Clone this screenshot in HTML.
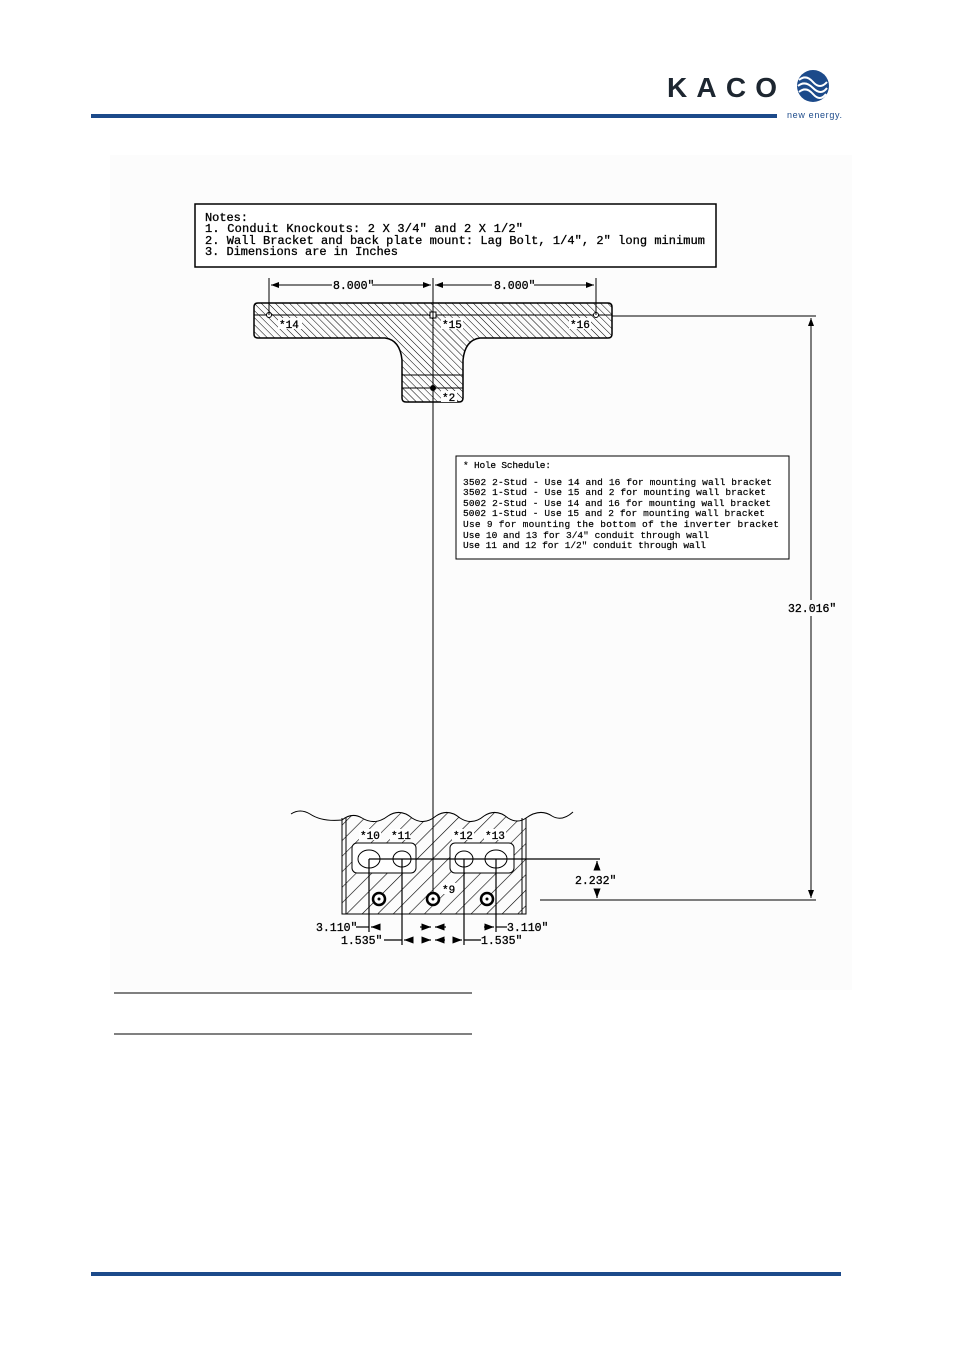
<!DOCTYPE html>
<html><head><meta charset="utf-8"><style>
body{margin:0;background:#fff}
svg{display:block}
text{font-family:"Liberation Mono","DejaVu Sans Mono",monospace}
</style></head><body>
<svg width="954" height="1350" viewBox="0 0 954 1350" xmlns="http://www.w3.org/2000/svg">
<defs>
<pattern id="h1" width="5" height="5" patternUnits="userSpaceOnUse" patternTransform="rotate(-45)"><line x1="0" y1="0" x2="0" y2="5" stroke="#000" stroke-width="1"/></pattern>
<pattern id="h2" width="11" height="11" patternUnits="userSpaceOnUse" patternTransform="rotate(45)"><line x1="0" y1="0" x2="0" y2="11" stroke="#000" stroke-width="1.2"/></pattern>
<marker id="a" markerWidth="8" markerHeight="6" refX="8" refY="3" orient="auto"><path d="M0,0L8,3L0,6z" fill="#000"/></marker>
</defs>
<rect x="110" y="155" width="742" height="835" fill="#fcfcfc"/>
<!-- header -->
<text x="667" y="97" font-weight="bold" font-size="28" fill="#1d2630" style="font-family:'Liberation Sans',sans-serif" textLength="110" lengthAdjust="spacing">KACO</text>
<circle cx="813" cy="86" r="16" fill="#1c4a8a"/>
<path d="M799,80 q7,-6 14,2 t14,0 M798,86 q7,-6 15,2 t14,0 M799,92 q7,-6 14,2 t13,0" stroke="#fff" stroke-width="2" fill="none"/>
<rect x="91" y="114" width="686" height="4" fill="#1c4a8a"/>
<text x="787" y="118" font-size="9" fill="#1c4a8a" style="font-family:'Liberation Sans',sans-serif" textLength="55">new energy.</text>
<!-- notes -->
<rect x="195" y="204" width="521" height="63" fill="#fff" stroke="#000" stroke-width="1.5"/>
<g font-size="12" fill="#000" stroke="#000" stroke-width="0.3">
<text x="205" y="221" textLength="43">Notes:</text>
<text x="205" y="232" textLength="318">1. Conduit Knockouts: 2 X 3/4" and 2 X 1/2"</text>
<text x="205" y="244" textLength="500">2. Wall Bracket and back plate mount: Lag Bolt, 1/4", 2" long minimum</text>
<text x="205" y="255" textLength="193">3. Dimensions are in Inches</text>
</g>
<!-- bracket -->
<path d="M258,303 H608 Q612,303 612,307 V334 Q612,338 608,338 H480 Q465,340 463,360 V398 Q463,402 459,402 H406 Q402,402 402,398 V360 Q400,340 385,338 H258 Q254,338 254,334 V307 Q254,303 258,303Z" fill="url(#h1)" stroke="#000" stroke-width="1.5"/>
<line x1="254" y1="315" x2="612" y2="315" stroke="#000"/>
<line x1="402" y1="375" x2="463" y2="375" stroke="#000"/>
<line x1="402" y1="388" x2="463" y2="388" stroke="#000"/>
<g fill="#fff"><rect x="278" y="318" width="24" height="11"/><rect x="441" y="318" width="22" height="11"/><rect x="569" y="318" width="22" height="11"/><rect x="441" y="391" width="16" height="11"/></g>
<g font-size="11" stroke="#000" stroke-width="0.3"><text x="279" y="328">*14</text><text x="442" y="328">*15</text><text x="570" y="328">*16</text><text x="442" y="401">*2</text></g>
<circle cx="269" cy="315" r="2.5" fill="#fff" stroke="#000"/><circle cx="596" cy="315" r="2.5" fill="#fff" stroke="#000"/><rect x="430" y="312" width="6" height="6" fill="#fff" stroke="#000"/><circle cx="433" cy="388" r="3" fill="#000"/>
<!-- dims top -->
<g stroke="#000" stroke-width="1">
<line x1="269" y1="278" x2="269" y2="315"/><line x1="596" y1="278" x2="596" y2="315"/>
<line x1="433" y1="278" x2="433" y2="900"/>
<line x1="332" y1="285" x2="271" y2="285" marker-end="url(#a)"/><line x1="372" y1="285" x2="431" y2="285" marker-end="url(#a)"/>
<line x1="492" y1="285" x2="435" y2="285" marker-end="url(#a)"/><line x1="534" y1="285" x2="594" y2="285" marker-end="url(#a)"/>
<line x1="612" y1="316" x2="816" y2="316"/><line x1="540" y1="900" x2="816" y2="900"/>
<line x1="811" y1="600" x2="811" y2="318" marker-end="url(#a)"/><line x1="811" y1="616" x2="811" y2="898" marker-end="url(#a)"/>
</g>
<g font-size="11.5" stroke="#000" stroke-width="0.3">
<text x="333" y="289">8.000"</text><text x="494" y="289">8.000"</text>
<text x="788" y="612">32.016"</text>
</g>
<!-- hole schedule -->
<rect x="456" y="456" width="333" height="103" fill="#fff" stroke="#000"/>
<g font-size="9.5" fill="#000" stroke="#000" stroke-width="0.2">
<text x="463" y="468" textLength="88">* Hole Schedule:</text>
<text x="463" y="485" textLength="309">3502 2-Stud - Use 14 and 16 for mounting wall bracket</text>
<text x="463" y="495" textLength="303">3502 1-Stud - Use 15 and 2 for mounting wall bracket</text>
<text x="463" y="506" textLength="308">5002 2-Stud - Use 14 and 16 for mounting wall bracket</text>
<text x="463" y="516" textLength="302">5002 1-Stud - Use 15 and 2 for mounting wall bracket</text>
<text x="463" y="527" textLength="316">Use 9 for mounting the bottom of the inverter bracket</text>
<text x="463" y="538" textLength="246">Use 10 and 13 for 3/4" conduit through wall</text>
<text x="463" y="548" textLength="243">Use 11 and 12 for 1/2" conduit through wall</text>
</g>
<!-- bottom part -->
<path d="M342,820 Q352,812 362,818 Q375,826 388,816 Q400,808 412,818 Q424,826 436,816 Q448,808 460,818 Q472,826 484,816 Q496,808 508,818 Q518,824 526,818 V914 H342Z" fill="url(#h2)" stroke="none"/>
<path d="M291,814 Q300,808 310,814 Q322,822 342,820 Q352,812 362,818 Q375,826 388,816 Q400,808 412,818 Q424,826 436,816 Q448,808 460,818 Q472,826 484,816 Q496,808 508,818 Q518,824 526,818 Q540,808 552,816 Q562,822 573,812" fill="none" stroke="#000"/>
<path d="M342,818 V914 H526 V818 M346,818 V914 M522,818 V914" fill="none" stroke="#000"/>
<rect x="352" y="843" width="64" height="30" rx="5" fill="#fff" stroke="#000"/>
<rect x="450" y="843" width="64" height="30" rx="5" fill="#fff" stroke="#000"/>
<g fill="#fff" stroke="#000"><ellipse cx="369" cy="859" rx="11" ry="9"/><ellipse cx="402" cy="859" rx="9" ry="8"/><ellipse cx="464" cy="859" rx="9" ry="8"/><ellipse cx="496" cy="859" rx="11" ry="9"/></g>
<g fill="#fff"><rect x="359" y="829" width="22" height="11"/><rect x="390" y="829" width="20" height="11"/><rect x="452" y="829" width="22" height="11"/><rect x="484" y="829" width="22" height="11"/><rect x="441" y="883" width="16" height="11"/></g>
<g font-size="11" stroke="#000" stroke-width="0.3"><text x="360" y="839">*10</text><text x="391" y="839">*11</text><text x="453" y="839">*12</text><text x="485" y="839">*13</text><text x="442" y="893">*9</text></g>
<g stroke="#000" fill="#fff"><circle cx="379" cy="899" r="6" stroke-width="2.5"/><circle cx="433" cy="899" r="6" stroke-width="2.5"/><circle cx="487" cy="899" r="6" stroke-width="2.5"/></g>
<g fill="#000"><circle cx="379" cy="899" r="1.5"/><circle cx="433" cy="899" r="1.5"/><circle cx="487" cy="899" r="1.5"/></g>
<g stroke="#000" stroke-width="1.2">
<line x1="369" y1="859" x2="600" y2="859"/>
<line x1="369" y1="859" x2="369" y2="932"/><line x1="402" y1="859" x2="402" y2="945"/><line x1="464" y1="859" x2="464" y2="945"/><line x1="496" y1="859" x2="496" y2="932"/>
<line x1="356" y1="927" x2="369" y2="927"/><line x1="380" y1="927" x2="371" y2="927" marker-end="url(#a)"/><line x1="420" y1="927" x2="431" y2="927" marker-end="url(#a)"/>
<line x1="446" y1="927" x2="435" y2="927" marker-end="url(#a)"/><line x1="484" y1="927" x2="494" y2="927" marker-end="url(#a)"/><line x1="496" y1="927" x2="507" y2="927"/>
<line x1="384" y1="940" x2="402" y2="940"/><line x1="412" y1="940" x2="404" y2="940" marker-end="url(#a)"/><line x1="422" y1="940" x2="431" y2="940" marker-end="url(#a)"/>
<line x1="445" y1="940" x2="435" y2="940" marker-end="url(#a)"/><line x1="454" y1="940" x2="462" y2="940" marker-end="url(#a)"/><line x1="464" y1="940" x2="481" y2="940"/>
<line x1="597" y1="868" x2="597" y2="861" marker-end="url(#a)"/><line x1="597" y1="890" x2="597" y2="898" marker-end="url(#a)"/>
</g>
<g font-size="11.5" stroke="#000" stroke-width="0.3"><text x="575" y="884">2.232"</text><text x="316" y="931">3.110"</text><text x="507" y="931">3.110"</text><text x="341" y="944">1.535"</text><text x="481" y="944">1.535"</text></g>
<line x1="114" y1="993" x2="472" y2="993" stroke="#000"/>
<line x1="114" y1="1034" x2="472" y2="1034" stroke="#000"/>
<rect x="91" y="1272" width="750" height="4" fill="#1c4a8a"/>
</svg>
</body></html>
